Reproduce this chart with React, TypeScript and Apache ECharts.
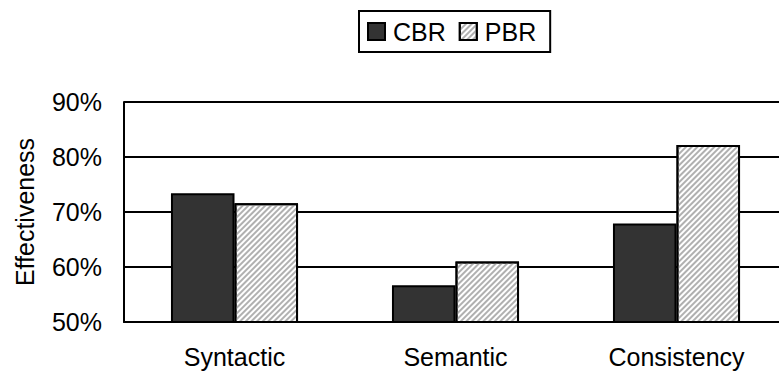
import React, { useEffect, useRef } from "react";
import * as echarts from "echarts";

const categories = ["Syntactic", "Semantic", "Consistency"];
const cbrValues = [73.4, 56.7, 67.9];
const pbrValues = [71.6, 61.0, 82.2];
const yTicks = { min: 50, max: 90, interval: 10 };

const FONT = 'Arial, "Liberation Sans", sans-serif';

export default function App() {
  const ref = useRef<HTMLDivElement>(null);
  useEffect(() => {
    if (!ref.current) return;
    const chart = echarts.init(ref.current, undefined, { renderer: "svg" });
    chart.setOption({
      animation: false,
      backgroundColor: "#ffffff",
      textStyle: { fontFamily: FONT, color: "#000" },
      legend: {
        left: 359,
        top: 11,
        orient: "horizontal",
        borderColor: "#000",
        borderWidth: 2,
        padding: [8, 14, 8, 8],
        itemWidth: 17,
        itemHeight: 17,
        itemGap: 13,
        icon: "rect",
        textStyle: { fontSize: 25, color: "#000", fontFamily: FONT, padding: [0, 0, 0, 3] },
        data: ["CBR", "PBR"],
      },
      grid: {
        left: 124,
        top: 102,
        right: -8,
        bottom: 52,
        containLabel: false,
        outerBoundsMode: "none",
      },
      xAxis: {
        type: "category",
        data: categories,
        axisLine: { lineStyle: { color: "#000", width: 2 } },
        axisTick: { inside: true, length: 9, lineStyle: { color: "#000", width: 2 } },
        axisLabel: { fontSize: 25, color: "#000", fontFamily: FONT, margin: 22 },
        splitLine: { show: false },
      },
      yAxis: {
        type: "value",
        min: yTicks.min,
        max: yTicks.max,
        interval: yTicks.interval,
        name: "Effectiveness",
        nameLocation: "middle",
        nameGap: 87,
        nameRotate: 90,
        nameTextStyle: { fontSize: 25, color: "#000", fontFamily: FONT },
        axisLine: { show: true, lineStyle: { color: "#000", width: 2 } },
        axisTick: { show: false },
        axisLabel: { fontSize: 25, color: "#000", fontFamily: FONT, margin: 22, formatter: "{value}%" },
        splitLine: { show: true, lineStyle: { color: "#000", width: 2 } },
      },
      series: [
        {
          name: "CBR",
          type: "bar",
          data: cbrValues,
          barGap: "0%",
          barCategoryGap: "42.5%",
          itemStyle: { color: "#333333", borderColor: "#000", borderWidth: 2 },
        },
        {
          name: "PBR",
          type: "bar",
          data: pbrValues,
          barGap: "0%",
          barCategoryGap: "42.5%",
          itemStyle: {
            color: "#ffffff",
            borderColor: "#000",
            borderWidth: 2,
            decal: {
              symbol: "rect",
              symbolSize: 1,
              color: "#b0b0b0",
              dashArrayX: [1, 0],
              dashArrayY: [1.2, 2],
              rotation: -Math.PI / 4,
            },
          },
        },
      ],
    });
    return () => chart.dispose();
  }, []);
  return (
    <div
      ref={ref}
      style={{ position: "absolute", left: 0, top: 0, width: 779, height: 374 }}
    />
  );
}
